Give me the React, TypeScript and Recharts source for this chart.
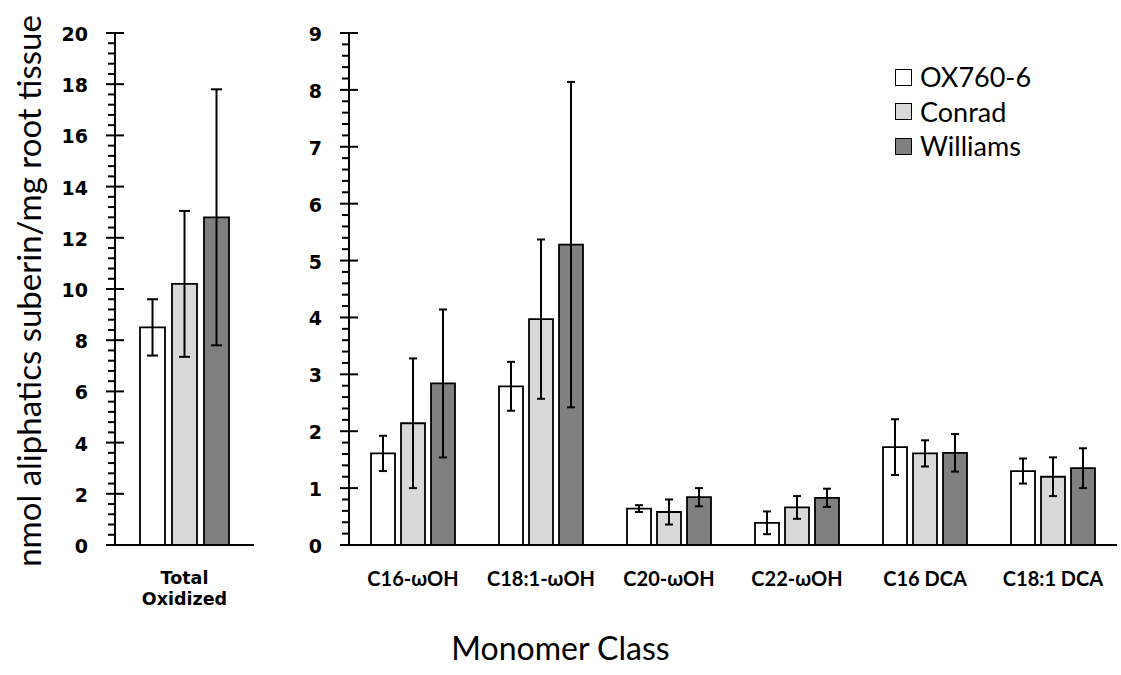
import React from 'react';
import { BarChart, Bar, XAxis, YAxis, ErrorBar, Legend } from 'recharts';

// ---- data ----
const totalCategories = ['Total Oxidized'];
const totalOx760 = [8.5];
const totalOx760Err = [1.1];
const totalConrad = [10.2];
const totalConradErr = [2.85];
const totalWilliams = [12.8];
const totalWilliamsErr = [5.0];

const categories = ['C16-ωOH', 'C18:1-ωOH', 'C20-ωOH', 'C22-ωOH', 'C16 DCA', 'C18:1 DCA'];
const ox760 = [1.61, 2.79, 0.64, 0.39, 1.72, 1.3];
const ox760Err = [0.31, 0.43, 0.06, 0.2, 0.49, 0.22];
const conrad = [2.14, 3.97, 0.58, 0.66, 1.61, 1.2];
const conradErr = [1.14, 1.4, 0.22, 0.2, 0.23, 0.34];
const williams = [2.84, 5.28, 0.84, 0.83, 1.62, 1.35];
const williamsErr = [1.3, 2.86, 0.16, 0.16, 0.33, 0.35];

const seriesNames = ['OX760-6', 'Conrad', 'Williams'];
const seriesColors = ['#ffffff', '#d9d9d9', '#808080'];

const leftMajorTicks = [0, 2, 4, 6, 8, 10, 12, 14, 16, 18, 20];
const leftMinorStep = 0.4;
const rightMajorTicks = [0, 1, 2, 3, 4, 5, 6, 7, 8, 9];
const rightMinorStep = 0.2;

const yTitle = 'nmol aliphatics suberin/mg root tissue';
const xTitle = 'Monomer Class';

// ---- build tables ----
const totalData = totalCategories.map((c, i) => ({
  name: c,
  ox: totalOx760[i], oxErr: totalOx760Err[i],
  conrad: totalConrad[i], conradErr: totalConradErr[i],
  williams: totalWilliams[i], williamsErr: totalWilliamsErr[i],
}));
const data = categories.map((c, i) => ({
  name: c,
  ox: ox760[i], oxErr: ox760Err[i],
  conrad: conrad[i], conradErr: conradErr[i],
  williams: williams[i], williamsErr: williamsErr[i],
}));

function allTicks(majors: number[], step: number) {
  const max = majors[majors.length - 1];
  const out: number[] = [];
  const n = Math.round(max / step);
  for (let i = 0; i <= n; i++) out.push(Math.round(i * step * 1000) / 1000);
  return out;
}

const makeYTick = (majors: number[]) => (props: any) => {
  const { x, y, payload } = props;
  const v = payload.value;
  const isMajor = majors.some((m) => Math.abs(m - v) < 1e-6);
  return (
    <g>
      <line x1={x - (isMajor ? 9 : 7)} x2={isMajor ? x + 9 : x} y1={y} y2={y} stroke="#000" strokeWidth={2} />
      {isMajor && (
        <text x={x - 27} y={y + 1} textAnchor="end" dominantBaseline="central"
          fontFamily="DejaVu Sans" fontWeight="bold" fontSize={19} fill="#000">
          {v}
        </text>
      )}
    </g>
  );
};

const TotalTick = (props: any) => {
  const { x, y, payload } = props;
  const words = String(payload.value).split(' ');
  return (
    <g>
      {words.map((w, i) => (
        <text key={i} x={x} y={y + 25 + i * 21} textAnchor="middle" dominantBaseline="central"
          fontFamily="DejaVu Sans" fontWeight="bold" fontSize={17.5} fill="#000">{w}</text>
      ))}
    </g>
  );
};

const CatTick = (props: any) => {
  const { x, y, payload } = props;
  return (
    <text x={x} y={y + 25} textAnchor="middle" dominantBaseline="central"
      fontFamily="Lato" fontWeight="bold" fontSize={20} fill="#000">{payload.value}</text>
  );
};

const YTitle = (props: any) => {
  const vb = props.viewBox || {};
  const cx = vb.x - 27;
  const cy = vb.y + vb.height / 2 + 2;
  return (
    <text x={cx} y={cy} transform={`rotate(-90 ${cx} ${cy})`} textAnchor="middle" dominantBaseline="central"
      fontFamily="Lato" fontSize={33} fill="#000">{yTitle}</text>
  );
};

const LegendContent = () => (
  <div style={{ fontFamily: 'Lato', fontSize: 27, color: '#000', lineHeight: '34.5px' }}>
    {seriesNames.map((n, i) => (
      <div key={n} style={{ display: 'flex', alignItems: 'center', height: 34.5 }}>
        <span style={{ display: 'inline-block', width: 15, height: 15, border: '1.5px solid #000', background: seriesColors[i], marginRight: 8 }} />
        <span>{n}</span>
      </div>
    ))}
  </div>
);

const barStroke = { stroke: '#000', strokeWidth: 1.8 };

export default function App() {
  const leftTicks = allTicks(leftMajorTicks, leftMinorStep);
  const rightTicks = allTicks(rightMajorTicks, rightMinorStep);
  return (
    <div style={{ position: 'absolute', left: 0, top: 0, width: 1121, height: 675, background: '#fff' }}>
      <div style={{ position: 'absolute', left: 0, top: 0 }}>
        <BarChart width={270} height={675} data={totalData} margin={{ top: 33, right: 16, bottom: 100, left: 55 }}
          barSize={25} barGap={7}>
          <XAxis dataKey="name" height={30} axisLine={{ stroke: '#000', strokeWidth: 2 }} tickLine={false} tick={<TotalTick />} interval={0} />
          <YAxis domain={[0, 20]} ticks={leftTicks} interval={0} width={60} tickSize={0} tickMargin={0}
            axisLine={{ stroke: '#000', strokeWidth: 2 }} tickLine={false} tick={makeYTick(leftMajorTicks)}
            label={<YTitle />} />
          <Bar dataKey="ox" fill={seriesColors[0]} {...barStroke} isAnimationActive={false}>
            <ErrorBar dataKey="oxErr" width={5.5} strokeWidth={2} stroke="#000" direction="y" />
          </Bar>
          <Bar dataKey="conrad" fill={seriesColors[1]} {...barStroke} isAnimationActive={false}>
            <ErrorBar dataKey="conradErr" width={5.5} strokeWidth={2} stroke="#000" direction="y" />
          </Bar>
          <Bar dataKey="williams" fill={seriesColors[2]} {...barStroke} isAnimationActive={false}>
            <ErrorBar dataKey="williamsErr" width={5.5} strokeWidth={2} stroke="#000" direction="y" />
          </Bar>
        </BarChart>
      </div>
      <div style={{ position: 'absolute', left: 270, top: 0 }}>
        <BarChart width={851} height={675} data={data} margin={{ top: 33, right: 4, bottom: 100, left: 19 }}
          barSize={24} barGap={6}>
          <XAxis dataKey="name" height={30} axisLine={{ stroke: '#000', strokeWidth: 2 }} tickLine={false} tick={<CatTick />} interval={0} />
          <YAxis domain={[0, 9]} ticks={rightTicks} interval={0} width={60} tickSize={0} tickMargin={0}
            axisLine={{ stroke: '#000', strokeWidth: 2 }} tickLine={false} tick={makeYTick(rightMajorTicks)} />
          <Legend layout="vertical" align="center" verticalAlign="middle" content={<LegendContent />}
            wrapperStyle={{ left: 625, top: 60, width: 200, height: 110 }} />
          <Bar dataKey="ox" name={seriesNames[0]} fill={seriesColors[0]} {...barStroke} isAnimationActive={false}>
            <ErrorBar dataKey="oxErr" width={4} strokeWidth={2} stroke="#000" direction="y" />
          </Bar>
          <Bar dataKey="conrad" name={seriesNames[1]} fill={seriesColors[1]} {...barStroke} isAnimationActive={false}>
            <ErrorBar dataKey="conradErr" width={4} strokeWidth={2} stroke="#000" direction="y" />
          </Bar>
          <Bar dataKey="williams" name={seriesNames[2]} fill={seriesColors[2]} {...barStroke} isAnimationActive={false}>
            <ErrorBar dataKey="williamsErr" width={4} strokeWidth={2} stroke="#000" direction="y" />
          </Bar>
        </BarChart>
      </div>
      <div style={{ position: 'absolute', left: 0, top: 630, width: 1121, textAlign: 'center', fontFamily: 'Lato', fontSize: 32, color: '#000', lineHeight: '36px' }}>
        {xTitle}
      </div>
    </div>
  );
}
